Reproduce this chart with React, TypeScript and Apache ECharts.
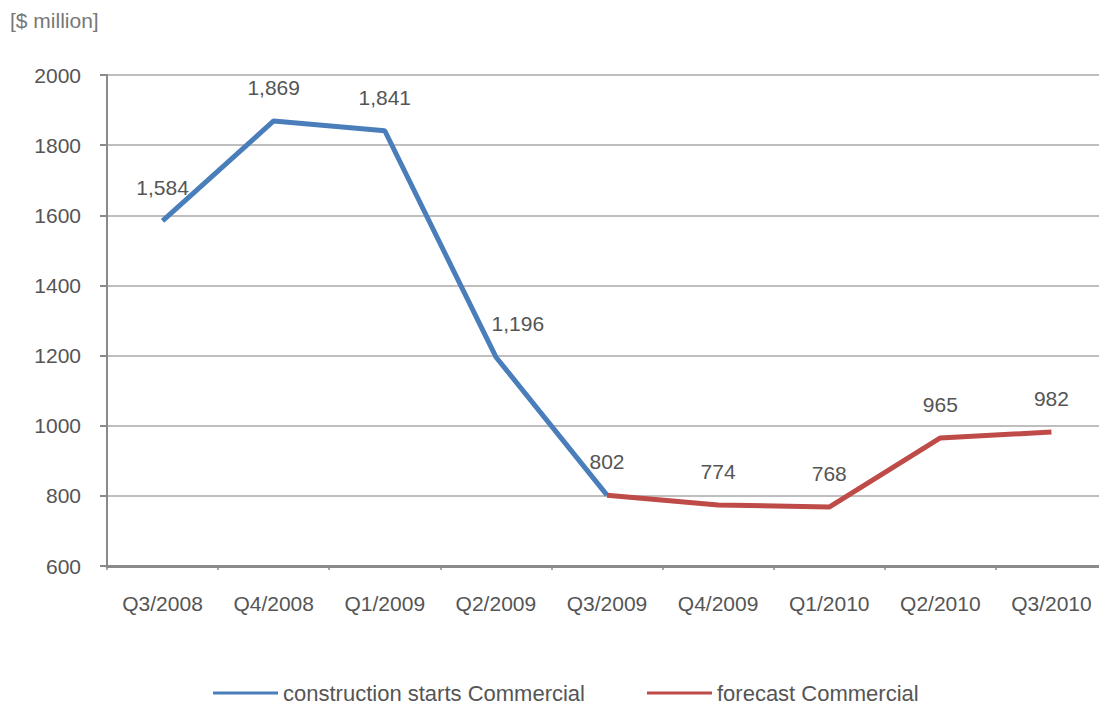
import React, { useEffect, useRef } from "react";
import * as echarts from "echarts";

const categories = ["Q3/2008", "Q4/2008", "Q1/2009", "Q2/2009", "Q3/2009", "Q4/2009", "Q1/2010", "Q2/2010", "Q3/2010"];
const startsValues: (number | null)[] = [1584, 1869, 1841, 1196, 802, null, null, null, null];
const forecastValues: (number | null)[] = [null, null, null, null, 802, 774, 768, 965, 982];
const yTicks = { min: 600, max: 2000, interval: 200 };

const FONT = "Liberation Sans";
const TEXT = "#555555";

export default function App() {
  const ref = useRef<HTMLDivElement>(null);
  useEffect(() => {
    if (!ref.current) return;
    const chart = echarts.init(ref.current, null, { renderer: "svg" });
    const fmt = (p: any) => Number(p.value).toLocaleString("en-US");
    const labelStyle = { show: true, position: "top", distance: 23, formatter: fmt, fontFamily: FONT, fontSize: 21, color: TEXT };
    chart.setOption({
      animation: false,
      title: {
        text: "[$ million]",
        left: -3,
        top: -3,
        textStyle: { fontFamily: FONT, fontSize: 21, fontWeight: "normal", color: "#777" },
      },
      grid: { left: 99, right: -8, top: 67, bottom: 143 },
      legend: {
        bottom: 0,
        left: 200,
        itemWidth: 65,
        itemHeight: 3,
        itemGap: 62,
        icon: "rect",
        textStyle: { fontFamily: FONT, fontSize: 22, color: TEXT },
        data: ["construction starts Commercial", "forecast Commercial"],
      },
      xAxis: {
        type: "category",
        data: categories,
        boundaryGap: true,
        axisLine: { lineStyle: { color: "#8a8a8a", width: 3 } },
        axisTick: { show: true, length: 4, lineStyle: { color: "#8a8a8a", width: 1.5 } },
        axisLabel: { margin: 27, fontFamily: FONT, fontSize: 21, color: TEXT },
      },
      yAxis: {
        type: "value",
        min: yTicks.min,
        max: yTicks.max,
        interval: yTicks.interval,
        axisLine: { show: true, lineStyle: { color: "#8a8a8a", width: 2 } },
        axisTick: { show: true, length: 7, lineStyle: { color: "#8a8a8a", width: 2 } },
        axisLabel: { margin: 26, fontFamily: FONT, fontSize: 21, color: TEXT, formatter: (v: number) => String(v) },
        splitLine: { lineStyle: { color: "#a8a8a8", width: 1.5 } },
      },
      series: [
        {
          name: "construction starts Commercial",
          type: "line",
          data: startsValues.map((v, i) => (i === 3 ? { value: v, label: { offset: [22, 0] } } : v)),
          showSymbol: true,
          symbol: "circle",
          symbolSize: 0.1,
          lineStyle: { color: "#4a7ebb", width: 5 },
          itemStyle: { color: "#4a7ebb" },
          label: labelStyle,
          z: 3,
        },
        {
          name: "forecast Commercial",
          type: "line",
          data: forecastValues.map((v, i) => (i === 4 ? { value: v, label: { show: false } } : v)),
          showSymbol: true,
          symbol: "circle",
          symbolSize: 0.1,
          lineStyle: { color: "#be4b48", width: 5 },
          itemStyle: { color: "#be4b48" },
          label: labelStyle,
          z: 4,
        },
      ],
    });
    return () => chart.dispose();
  }, []);
  return <div ref={ref} style={{ width: 1099, height: 701 }} />;
}
